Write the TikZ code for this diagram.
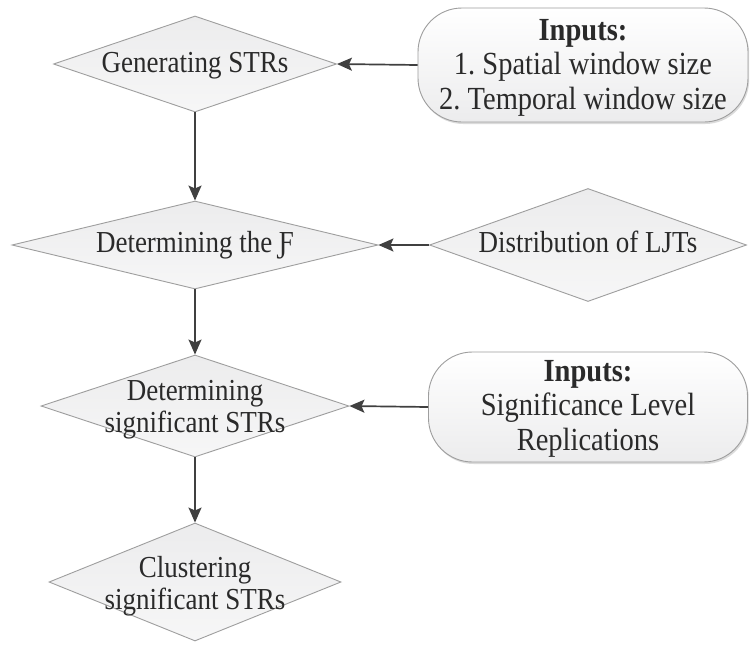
\documentclass[tikz,border=0pt]{standalone}
\usepackage{fontspec}
\setmainfont{Liberation Serif}
\usetikzlibrary{shapes.geometric,arrows.meta,shadows}
\definecolor{edgegray}{HTML}{9E9E9E}
\definecolor{boxfill}{HTML}{ECECED}
\definecolor{arrowgray}{HTML}{404040}
\definecolor{textgray}{HTML}{2A2A2A}
\frenchspacing
% Times-like lettering, set a little taller than its natural shape
\newcommand{\tallstack}[1]{\scalebox{1}[1.13]{\begin{tabular}{@{}c@{}}#1\end{tabular}}}
\begin{document}
\begin{tikzpicture}[x=1pt,y=-1pt,
  decision/.style={diamond, draw=edgegray, line width=0.9pt,
    top color=boxfill, bottom color=boxfill!45!white,
    inner sep=0pt, aspect=3},
  inputbox/.style={rectangle, rounded corners=44pt, draw=edgegray, line width=0.9pt,
    top color=white, bottom color=boxfill,
    drop shadow={shadow xshift=1.2pt, shadow yshift=-2pt, opacity=0.28, fill=gray},
    inner sep=0pt},
  steptext/.style={text=textgray, align=center, inner sep=0pt,
    font=\fontsize{27}{28.5}\selectfont},
  inputtext/.style={text=textgray, align=center, inner sep=0pt,
    font=\fontsize{28.5}{30.8}\selectfont},
  flow/.style={draw=arrowgray, line width=1.7pt,
    -{Stealth[length=15pt,width=13pt,inset=3pt]}}
]
\fill[white] (0,0) rectangle (751,645);
\useasboundingbox (0,0) rectangle (751,645);

% main chain of steps
\node[decision, minimum width=283pt, minimum height=96pt]  (gen)   at (195,64)  {};
\node[decision, minimum width=366pt, minimum height=88pt]  (det)   at (195,245) {};
\node[decision, minimum width=308pt, minimum height=102pt] (sig)   at (195,406) {};
\node[decision, minimum width=292pt, minimum height=118pt] (clu)   at (195,582) {};

% side inputs
\node[inputbox, minimum width=330pt, minimum height=114pt] (inA)   at (583,65)  {};
\node[decision, minimum width=317pt, minimum height=113pt] (dist)  at (588,245) {};
\node[inputbox, minimum width=319pt, minimum height=110pt] (inB)   at (588,407) {};

% texts
\node[steptext] (genT)  at ([yshift=-2pt]gen.center)  {\tallstack{Generating STRs}};
\node[steptext] (detT)  at ([yshift=-1pt]det.center)  {\tallstack{Determining the Ƒ}};
\node[steptext] (sigT)  at ([yshift=-4pt]sig.center)  {\tallstack{Determining\\significant STRs}};
\node[steptext] (cluT)  at ([yshift=-5pt]clu.center)  {\tallstack{Clustering\\significant STRs}};
\node[steptext] (distT) at ([yshift=-1pt]dist.center) {\tallstack{Distribution of LJTs}};
\node[inputtext] (inAT) at ([yshift=-3pt]inA.center)  {\tallstack{\textbf{Inputs:}\\1. Spatial window size\\2. Temporal window size}};
\node[inputtext] (inBT) at ([yshift=-2pt]inB.center)  {\tallstack{\textbf{Inputs:}\\Significance Level\\Replications}};

% connectors
\draw[flow] (gen.south) -- (det.north);
\draw[flow] (det.south) -- (sig.north);
\draw[flow] (sig.south) -- (clu.north);
\draw[flow] (inA.west)  -- (gen.east);
\draw[flow] (dist.west) -- (det.east);
\draw[flow] (inB.west)  -- (sig.east);
\end{tikzpicture}
\end{document}
